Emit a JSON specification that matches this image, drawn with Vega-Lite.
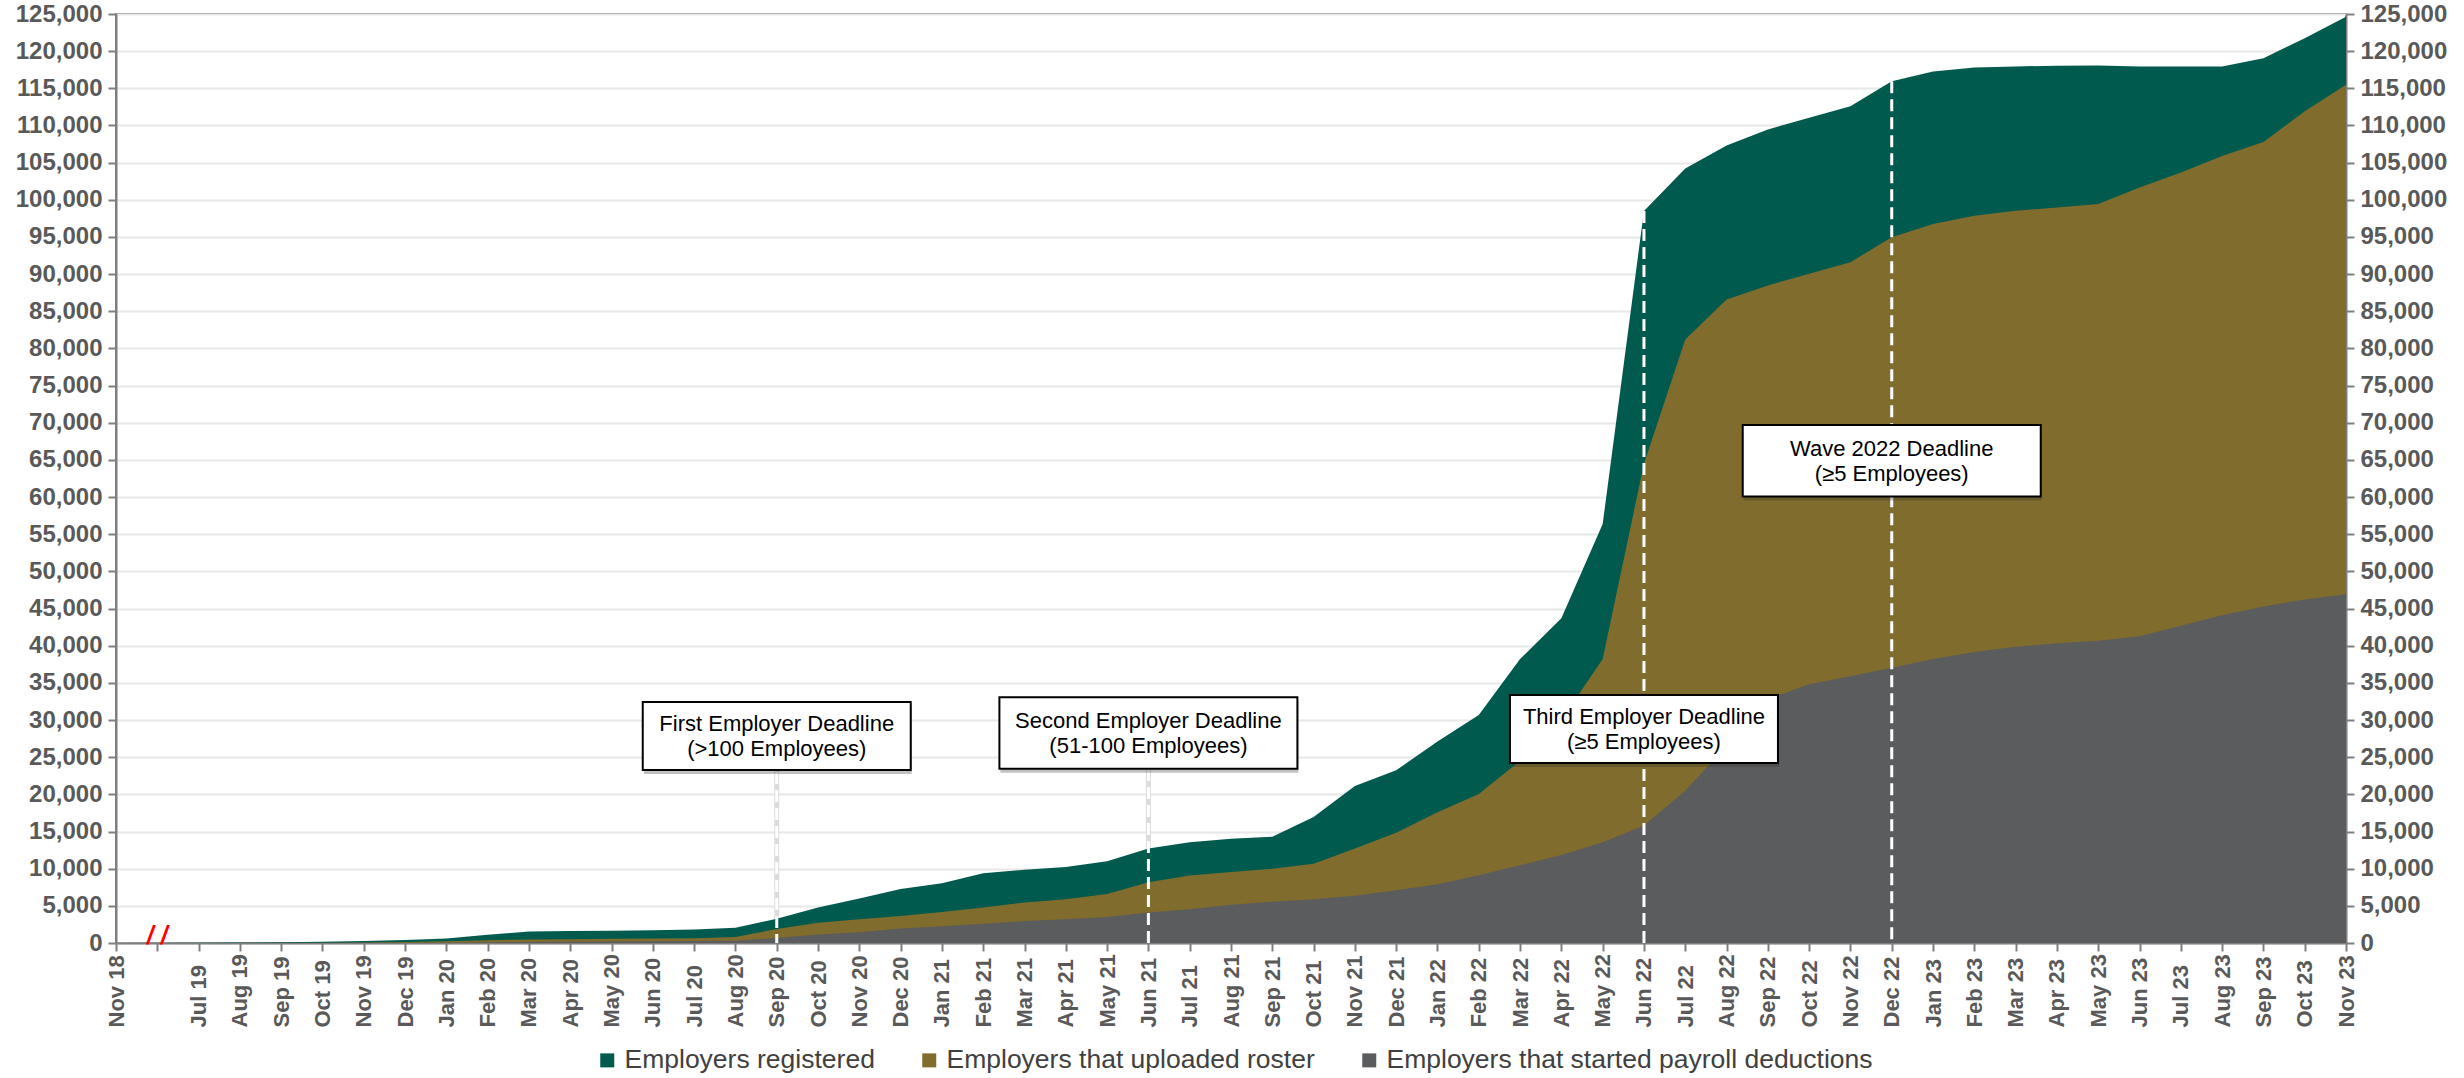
{
  "$schema": "https://vega.github.io/schema/vega-lite/v6.json",
  "width": 2230,
  "height": 929,
  "autosize": {"type": "none"},
  "padding": {"left": 116, "top": 14, "right": 118, "bottom": 135},
  "background": "white",
  "config": {
    "font": "Liberation Sans",
    "view": {"stroke": "#7f7f7f", "strokeWidth": 2},
    "axis": {
      "labelFont": "Liberation Sans",
      "labelFontWeight": "bold",
      "labelColor": "#595959",
      "domainColor": "#7f7f7f",
      "domainWidth": 2,
      "tickColor": "#7f7f7f",
      "tickWidth": 2,
      "title": null
    }
  },
  "datasets": {
    "main": [
      {"month": "Nov 18", "registered": 0, "uploaded": 0, "started": 0},
      {"month": "Jul 19", "registered": 30, "uploaded": 0, "started": 0},
      {"month": "Aug 19", "registered": 60, "uploaded": 10, "started": 0},
      {"month": "Sep 19", "registered": 100, "uploaded": 30, "started": 0},
      {"month": "Oct 19", "registered": 160, "uploaded": 50, "started": 10},
      {"month": "Nov 19", "registered": 260, "uploaded": 80, "started": 20},
      {"month": "Dec 19", "registered": 400, "uploaded": 150, "started": 30},
      {"month": "Jan 20", "registered": 600, "uploaded": 250, "started": 50},
      {"month": "Feb 20", "registered": 1100, "uploaded": 380, "started": 100},
      {"month": "Mar 20", "registered": 1550, "uploaded": 480, "started": 150},
      {"month": "Apr 20", "registered": 1600, "uploaded": 520, "started": 180},
      {"month": "May 20", "registered": 1650, "uploaded": 560, "started": 200},
      {"month": "Jun 20", "registered": 1700, "uploaded": 600, "started": 230},
      {"month": "Jul 20", "registered": 1800, "uploaded": 650, "started": 260},
      {"month": "Aug 20", "registered": 2050, "uploaded": 800, "started": 300},
      {"month": "Sep 20", "registered": 3250, "uploaded": 1900, "started": 680},
      {"month": "Oct 20", "registered": 4770, "uploaded": 2730, "started": 1140},
      {"month": "Nov 20", "registered": 6000, "uploaded": 3180, "started": 1450},
      {"month": "Dec 20", "registered": 7270, "uploaded": 3640, "started": 1950},
      {"month": "Jan 21", "registered": 8050, "uploaded": 4180, "started": 2270},
      {"month": "Feb 21", "registered": 9400, "uploaded": 4770, "started": 2590},
      {"month": "Mar 21", "registered": 9860, "uploaded": 5450, "started": 2950},
      {"month": "Apr 21", "registered": 10230, "uploaded": 5900, "started": 3180},
      {"month": "May 21", "registered": 11000, "uploaded": 6590, "started": 3500},
      {"month": "Jun 21", "registered": 12730, "uploaded": 8180, "started": 4090},
      {"month": "Jul 21", "registered": 13550, "uploaded": 9090, "started": 4550},
      {"month": "Aug 21", "registered": 14040, "uploaded": 9550, "started": 5140},
      {"month": "Sep 21", "registered": 14300, "uploaded": 10000, "started": 5550},
      {"month": "Oct 21", "registered": 16950, "uploaded": 10680, "started": 5900},
      {"month": "Nov 21", "registered": 21130, "uploaded": 12730, "started": 6360},
      {"month": "Dec 21", "registered": 23250, "uploaded": 14850, "started": 7100},
      {"month": "Jan 22", "registered": 27100, "uploaded": 17600, "started": 7900},
      {"month": "Feb 22", "registered": 30680, "uploaded": 20060, "started": 9100},
      {"month": "Mar 22", "registered": 38210, "uploaded": 24510, "started": 10470},
      {"month": "Apr 22", "registered": 43690, "uploaded": 29990, "started": 11840},
      {"month": "May 22", "registered": 56370, "uploaded": 38210, "started": 13550},
      {"month": "Jun 22", "registered": 98500, "uploaded": 64500, "started": 15800},
      {"month": "Jul 22", "registered": 104200, "uploaded": 81200, "started": 20500},
      {"month": "Aug 22", "registered": 107300, "uploaded": 86600, "started": 26500},
      {"month": "Sep 22", "registered": 109470, "uploaded": 88480, "started": 32800},
      {"month": "Oct 22", "registered": 111030, "uploaded": 90050, "started": 34800},
      {"month": "Nov 22", "registered": 112590, "uploaded": 91610, "started": 35900},
      {"month": "Dec 22", "registered": 115940, "uploaded": 94960, "started": 37030},
      {"month": "Jan 23", "registered": 117280, "uploaded": 96740, "started": 38210},
      {"month": "Feb 23", "registered": 117810, "uploaded": 97860, "started": 39150},
      {"month": "Mar 23", "registered": 117950, "uploaded": 98530, "started": 39860},
      {"month": "Apr 23", "registered": 118040, "uploaded": 98980, "started": 40330},
      {"month": "May 23", "registered": 118080, "uploaded": 99420, "started": 40660},
      {"month": "Jun 23", "registered": 117950, "uploaded": 101650, "started": 41270},
      {"month": "Jul 23", "registered": 117950, "uploaded": 103660, "started": 42690},
      {"month": "Aug 23", "registered": 117950, "uploaded": 105890, "started": 44100},
      {"month": "Sep 23", "registered": 119060, "uploaded": 107770, "started": 45280},
      {"month": "Oct 23", "registered": 121740, "uploaded": 111920, "started": 46230},
      {"month": "Nov 23", "registered": 124640, "uploaded": 115490, "started": 46930}
    ],
    "deadlines": [
      {"month": "Sep 20", "lines": ["First Employer Deadline", "(>100 Employees)"], "level": 27850},
      {"month": "Jun 21", "lines": ["Second Employer Deadline", "(51-100 Employees)"], "level": 28250},
      {"month": "Jun 22", "lines": ["Third Employer Deadline", "(≥5 Employees)"], "level": 28800},
      {"month": "Dec 22", "lines": ["Wave 2022 Deadline", "(≥5 Employees)"], "level": 64900}
    ],
    "brk": [{"month": " ", "mark": "/ /"}]
  },
  "encoding": {
    "x": {
      "field": "month",
      "type": "ordinal",
      "scale": {
        "type": "point",
        "padding": 0,
        "domain": ["Nov 18", " ", "Jul 19", "Aug 19", "Sep 19", "Oct 19", "Nov 19", "Dec 19",
          "Jan 20", "Feb 20", "Mar 20", "Apr 20", "May 20", "Jun 20", "Jul 20", "Aug 20", "Sep 20", "Oct 20", "Nov 20", "Dec 20",
          "Jan 21", "Feb 21", "Mar 21", "Apr 21", "May 21", "Jun 21", "Jul 21", "Aug 21", "Sep 21", "Oct 21", "Nov 21", "Dec 21",
          "Jan 22", "Feb 22", "Mar 22", "Apr 22", "May 22", "Jun 22", "Jul 22", "Aug 22", "Sep 22", "Oct 22", "Nov 22", "Dec 22",
          "Jan 23", "Feb 23", "Mar 23", "Apr 23", "May 23", "Jun 23", "Jul 23", "Aug 23", "Sep 23", "Oct 23", "Nov 23"]
      },
      "axis": {
        "orient": "bottom",
        "labelAngle": -90,
        "labelAlign": "left",
        "labelBaseline": "middle",
        "labelPadding": 76,
        "labelFontSize": 22,
        "tickSize": 8,
        "grid": false,
        "labelOverlap": false,
        "labelFlush": false,
        "title": null
      }
    }
  },
  "layer": [
    {
      "data": {"name": "deadlines"},
      "transform": [{"filter": {"field": "month", "oneOf": ["Sep 20", "Jun 21"]}}],
      "mark": {"type": "rule", "color": "#dcdcdc", "strokeWidth": 5},
      "encoding": {
        "y": {"field": "level", "type": "quantitative", "axis": null},
        "y2": {"datum": 0}
      }
    },
    {
      "data": {"name": "main"},
      "mark": {"type": "area", "opacity": 1},
      "encoding": {
        "y": {
          "field": "registered",
          "type": "quantitative",
          "stack": null,
          "scale": {"domain": [0, 125000], "nice": false},
          "axis": {
            "orient": "left",
            "values": [0, 5000, 10000, 15000, 20000, 25000, 30000, 35000, 40000, 45000, 50000, 55000, 60000, 65000, 70000, 75000, 80000, 85000, 90000, 95000, 100000, 105000, 110000, 115000, 120000, 125000],
            "format": ",d",
            "labelFontSize": 24,
            "tickSize": 8,
            "labelPadding": 6,
            "grid": true,
            "gridColor": "#e8e8e8",
            "gridWidth": 2,
            "title": null
          }
        },
        "color": {
          "datum": "Employers registered",
          "scale": {
            "domain": ["Employers registered", "Employers that uploaded roster", "Employers that started payroll deductions"],
            "range": ["#005a4e", "#806c2c", "#5b5c5e"]
          },
          "legend": {
            "orient": "none",
            "legendX": 478,
            "legendY": 1033,
            "direction": "horizontal",
            "columnPadding": 41,
            "padding": 0,
            "symbolType": "square",
            "symbolSize": 196,
            "symbolOpacity": 1,
            "symbolStrokeWidth": 0,
            "labelFont": "Liberation Sans",
            "labelFontSize": 26.5,
            "labelColor": "#404040",
            "labelOffset": 4,
            "labelLimit": 0,
            "title": null
          }
        }
      }
    },
    {
      "data": {"name": "main"},
      "mark": {"type": "area", "opacity": 1},
      "encoding": {
        "y": {
          "field": "uploaded",
          "type": "quantitative",
          "stack": null,
          "axis": {
            "orient": "right",
            "values": [0, 5000, 10000, 15000, 20000, 25000, 30000, 35000, 40000, 45000, 50000, 55000, 60000, 65000, 70000, 75000, 80000, 85000, 90000, 95000, 100000, 105000, 110000, 115000, 120000, 125000],
            "format": ",d",
            "labelFontSize": 24,
            "tickSize": 8,
            "labelPadding": 6,
            "grid": false,
            "title": null
          }
        },
        "color": {"datum": "Employers that uploaded roster"}
      }
    },
    {
      "data": {"name": "main"},
      "mark": {"type": "area", "opacity": 1},
      "encoding": {
        "y": {"field": "started", "type": "quantitative", "stack": null, "axis": null},
        "color": {"datum": "Employers that started payroll deductions"}
      }
    },
    {
      "data": {"name": "deadlines"},
      "transform": [{"filter": {"field": "month", "oneOf": ["Sep 20", "Jun 21"]}}],
      "mark": {"type": "rule", "color": "white", "strokeWidth": 3, "strokeDash": [12, 6]},
      "encoding": {
        "y": {"field": "level", "type": "quantitative", "axis": null},
        "y2": {"datum": 0}
      }
    },
    {
      "data": {"name": "deadlines"},
      "transform": [
        {"filter": {"field": "month", "oneOf": ["Jun 22", "Dec 22"]}},
        {"lookup": "month", "from": {"data": {"name": "main"}, "key": "month", "fields": ["registered"]}}
      ],
      "mark": {"type": "rule", "color": "white", "strokeWidth": 3, "strokeDash": [12, 6]},
      "encoding": {
        "y": {"field": "registered", "type": "quantitative", "axis": null},
        "y2": {"datum": 0}
      }
    },
    {
      "data": {"name": "brk"},
      "mark": {"type": "text", "color": "#ff0000", "fontSize": 25, "fontWeight": "bold", "fontStyle": "italic", "align": "center", "baseline": "alphabetic", "dy": 1},
      "encoding": {
        "y": {"datum": 0, "axis": null},
        "text": {"field": "mark"}
      }
    },
    {
      "data": {"name": "deadlines"},
      "transform": [{"filter": {"field": "month", "oneOf": ["Sep 20", "Jun 22"]}}],
      "mark": {"type": "point", "shape": "M-1,-0.2537H1V0.2537H-1Z", "size": 71824, "filled": true, "fill": "#333333", "strokeWidth": 0, "opacity": 0.3, "xOffset": 1, "yOffset": 4},
      "encoding": {"y": {"field": "level", "type": "quantitative", "axis": null}}
    },
    {
      "data": {"name": "deadlines"},
      "transform": [{"filter": {"field": "month", "oneOf": ["Jun 21", "Dec 22"]}}],
      "mark": {"type": "point", "shape": "M-1,-0.24H1V0.24H-1Z", "size": 88804, "filled": true, "fill": "#333333", "strokeWidth": 0, "opacity": 0.3, "xOffset": 1, "yOffset": 4},
      "encoding": {"y": {"field": "level", "type": "quantitative", "axis": null}}
    },
    {
      "data": {"name": "deadlines"},
      "transform": [{"filter": {"field": "month", "oneOf": ["Sep 20", "Jun 22"]}}],
      "mark": {"type": "point", "shape": "M-1,-0.2537H1V0.2537H-1Z", "size": 71824, "filled": true, "fill": "white", "stroke": "#000000", "strokeWidth": 2, "opacity": 1},
      "encoding": {"y": {"field": "level", "type": "quantitative", "axis": null}}
    },
    {
      "data": {"name": "deadlines"},
      "transform": [{"filter": {"field": "month", "oneOf": ["Jun 21", "Dec 22"]}}],
      "mark": {"type": "point", "shape": "M-1,-0.24H1V0.24H-1Z", "size": 88804, "filled": true, "fill": "white", "stroke": "#000000", "strokeWidth": 2, "opacity": 1},
      "encoding": {"y": {"field": "level", "type": "quantitative", "axis": null}}
    },
    {
      "data": {"name": "deadlines"},
      "mark": {"type": "text", "font": "Liberation Sans", "fontSize": 22, "color": "#000000", "align": "center", "baseline": "middle", "lineHeight": 25, "dy": -12},
      "encoding": {
        "y": {"field": "level", "type": "quantitative", "axis": null},
        "text": {"field": "lines"}
      }
    }
  ],
  "resolve": {"axis": {"y": "independent"}}
}
